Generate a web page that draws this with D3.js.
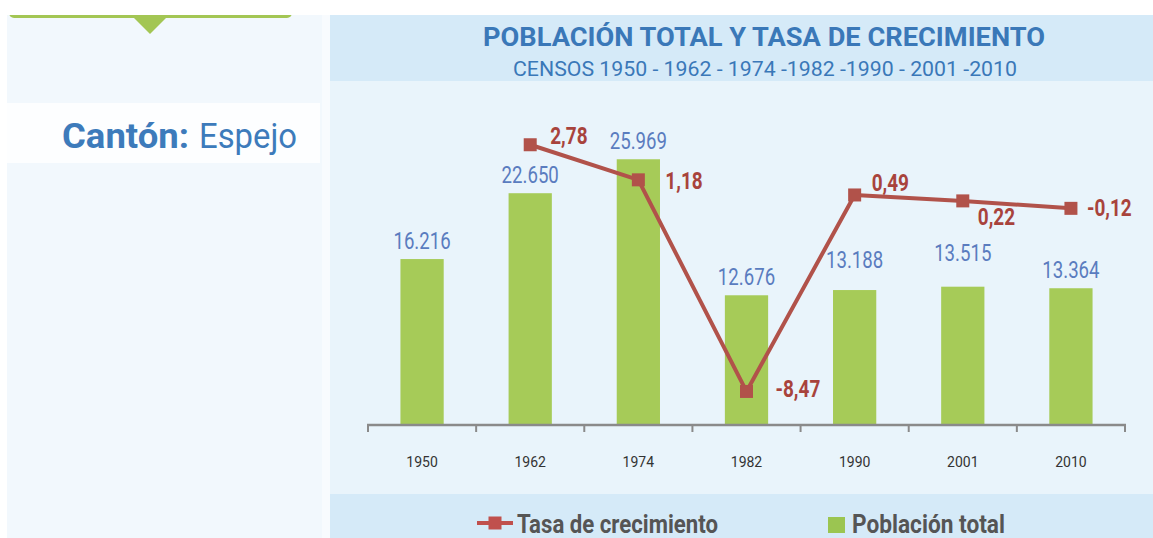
<!DOCTYPE html>
<html>
<head>
<meta charset="utf-8">
<script src="https://cdn.jsdelivr.net/npm/d3@7"></script>
<style>
  body { margin: 0; background: #ffffff; }
  svg { display: block; font-family: Roboto, "Open Sans", sans-serif; }
</style>
</head>
<body>
<div id="chart"></div>
<script>
const years = ["1950", "1962", "1974", "1982", "1990", "2001", "2010"];
const poblacion = [16216, 22650, 25969, 12676, 13188, 13515, 13364];
const tasa = [null, 2.78, 1.18, -8.47, 0.49, 0.22, -0.12];
const canton = "Espejo";

function drawPoblacion() {
  const width = 1153;
  const height = 538;
  const plot = { left: 368, right: 1125, top: 118, bottom: 425 };

  const locale = d3.formatLocale({ decimal: ",", thousands: ".", grouping: [3], currency: ["$", ""], minus: "-" });
  const fmtPob = locale.format(",");
  const fmtTasa = locale.format(".2f");

  const svg = d3.select("#chart")
    .html("")
    .append("svg")
    .attr("width", width)
    .attr("height", height);

  // squeeze a text to a given width (the original uses a condensed face)
  function fit(sel, w) {
    sel.attr("textLength", w).attr("lengthAdjust", "spacingAndGlyphs");
  }
  function squeeze(sel, k) {
    sel.each(function () {
      const len = this.getComputedTextLength();
      d3.select(this).attr("textLength", len * k).attr("lengthAdjust", "spacingAndGlyphs");
    });
  }

  // Left panel
  svg.append("rect").attr("x", 7).attr("y", 15).attr("width", 315).attr("height", height - 15).attr("fill", "#f2f8fd");
  svg.append("rect").attr("x", 322).attr("y", 15).attr("width", 8).attr("height", height - 15).attr("fill", "#f8fbfe");
  svg.append("rect").attr("x", 9).attr("y", 4).attr("width", 283).attr("height", 14).attr("rx", 5).attr("fill", "#a3c654");
  svg.append("rect").attr("x", 0).attr("y", 0).attr("width", 330).attr("height", 15).attr("fill", "#ffffff");
  svg.append("path").attr("d", "M133,17 L167,17 L150,34 Z").attr("fill", "#a3c654");
  svg.append("rect").attr("x", 7).attr("y", 103).attr("width", 313).attr("height", 60).attr("fill", "#fdfeff");

  svg.append("text")
    .attr("x", 62).attr("y", 148)
    .style("font-size", "35px").style("font-weight", "bold").style("fill", "#3d7bbb")
    .text("Cantón:")
    .call(fit, 127);
  svg.append("text")
    .attr("x", 199).attr("y", 148)
    .style("font-size", "35px").style("fill", "#3d7bbb")
    .text(canton)
    .call(fit, 98);

  // Chart panel backgrounds
  svg.append("rect").attr("x", 330).attr("y", 15).attr("width", width - 330).attr("height", 66).attr("fill", "#d5eaf8");
  svg.append("rect").attr("x", 330).attr("y", 81).attr("width", width - 330).attr("height", 413).attr("fill", "#e9f4fb");
  svg.append("rect").attr("x", 330).attr("y", 494).attr("width", width - 330).attr("height", height - 494).attr("fill", "#d5eaf8");

  // Title
  svg.append("text")
    .attr("x", 483).attr("y", 46)
    .style("font-size", "25px").style("font-weight", "bold").style("fill", "#3a78b8")
    .text("POBLACIÓN TOTAL Y TASA DE CRECIMIENTO")
    .call(fit, 562);
  svg.append("text")
    .attr("x", 513).attr("y", 76)
    .style("font-size", "20px").style("fill", "#3a78b8")
    .text("CENSOS 1950 - 1962 - 1974 -1982 -1990 - 2001 -2010")
    .call(fit, 504);

  const x = d3.scaleBand()
    .domain(years)
    .range([plot.left, plot.right])
    .padding(0);

  const y = d3.scaleLinear()
    .domain([0, 30000])
    .range([plot.bottom, plot.top]);

  const y2 = d3.scaleLinear()
    .domain([-10, 4])
    .range([plot.bottom, plot.top]);

  const barW = x.bandwidth() * 0.4;
  const cx = d => x(d) + x.bandwidth() / 2;

  const rows = years.map((yr, i) => ({ year: yr, pob: poblacion[i], tasa: tasa[i] }));

  // Bars
  svg.selectAll("rect.bar")
    .data(rows)
    .join("rect")
    .attr("class", "bar")
    .attr("x", d => cx(d.year) - barW / 2)
    .attr("y", d => y(d.pob))
    .attr("width", barW)
    .attr("height", d => plot.bottom - y(d.pob))
    .attr("fill", "#a6cb58");

  // X Axis (ticks between the categories)
  svg.append("g")
    .attr("transform", `translate(0,${plot.bottom})`)
    .call(d3.axisBottom(x).tickSize(0).tickPadding(32))
    .call(g => g.select(".domain").remove())
    .selectAll("text")
    .style("font-family", "Roboto, sans-serif")
    .style("font-size", "14px")
    .style("fill", "#333333");

  const bounds = years.map(d => x(d)).concat([plot.right]);
  svg.append("g")
    .selectAll("line")
    .data(bounds)
    .join("line")
    .attr("x1", d => d).attr("x2", d => d)
    .attr("y1", plot.bottom).attr("y2", plot.bottom + 7)
    .attr("stroke", "#8a8a8a").attr("stroke-width", 2);
  svg.append("line")
    .attr("x1", plot.left - 1).attr("x2", plot.right + 1)
    .attr("y1", plot.bottom).attr("y2", plot.bottom)
    .attr("stroke", "#8a8a8a").attr("stroke-width", 2.5);

  // Bar labels
  const barLabelLift = { "1990": 22, "2001": 26 };
  svg.selectAll("text.pob")
    .data(rows)
    .join("text")
    .attr("class", "pob")
    .attr("x", d => cx(d.year))
    .attr("y", d => y(d.pob) - (barLabelLift[d.year] || 10))
    .attr("text-anchor", "middle")
    .style("font-size", "23px")
    .style("fill", "#5a7cbf")
    .text(d => fmtPob(d.pob))
    .call(squeeze, 0.81);

  // Growth-rate line
  const pts = rows.filter(d => d.tasa !== null);
  const line = d3.line()
    .x(d => cx(d.year))
    .y(d => y2(d.tasa));

  svg.append("path")
    .datum(pts)
    .attr("d", line)
    .attr("fill", "none")
    .attr("stroke", "#b1524a")
    .attr("stroke-width", 4)
    .attr("stroke-linejoin", "round");

  svg.selectAll("rect.mk")
    .data(pts)
    .join("rect")
    .attr("class", "mk")
    .attr("x", d => cx(d.year) - 6.5)
    .attr("y", d => y2(d.tasa) - 6.5)
    .attr("width", 13)
    .attr("height", 13)
    .attr("fill", "#b1524a");

  // Line labels (offsets from the marker)
  const tasaLabelPos = {
    "1962": [20, -1], "1974": [27, 9], "1982": [29, 6],
    "1990": [17, -4], "2001": [15, 24], "2010": [16, 8]
  };
  svg.selectAll("text.tasa")
    .data(pts)
    .join("text")
    .attr("class", "tasa")
    .attr("x", d => cx(d.year) + tasaLabelPos[d.year][0])
    .attr("y", d => y2(d.tasa) + tasaLabelPos[d.year][1])
    .style("font-size", "24px")
    .style("font-weight", "bold")
    .style("fill", "#a8433c")
    .text(d => fmtTasa(d.tasa))
    .call(squeeze, 0.79);

  // Legend
  svg.append("line")
    .attr("x1", 477).attr("x2", 513).attr("y1", 523).attr("y2", 523)
    .attr("stroke", "#c0504d").attr("stroke-width", 4);
  svg.append("rect")
    .attr("x", 488.5).attr("y", 516.5).attr("width", 13).attr("height", 13)
    .attr("fill", "#c0504d");
  svg.append("text")
    .attr("x", 517).attr("y", 533)
    .style("font-size", "25px").style("font-weight", "bold").style("fill", "#555555")
    .text("Tasa de crecimiento")
    .call(fit, 201);

  svg.append("rect")
    .attr("x", 828).attr("y", 517).attr("width", 17).attr("height", 16)
    .attr("fill", "#9bc551");
  svg.append("text")
    .attr("x", 852).attr("y", 533)
    .style("font-size", "25px").style("font-weight", "bold").style("fill", "#555555")
    .text("Población total")
    .call(fit, 153);
}

drawPoblacion();
</script>
</body>
</html>
